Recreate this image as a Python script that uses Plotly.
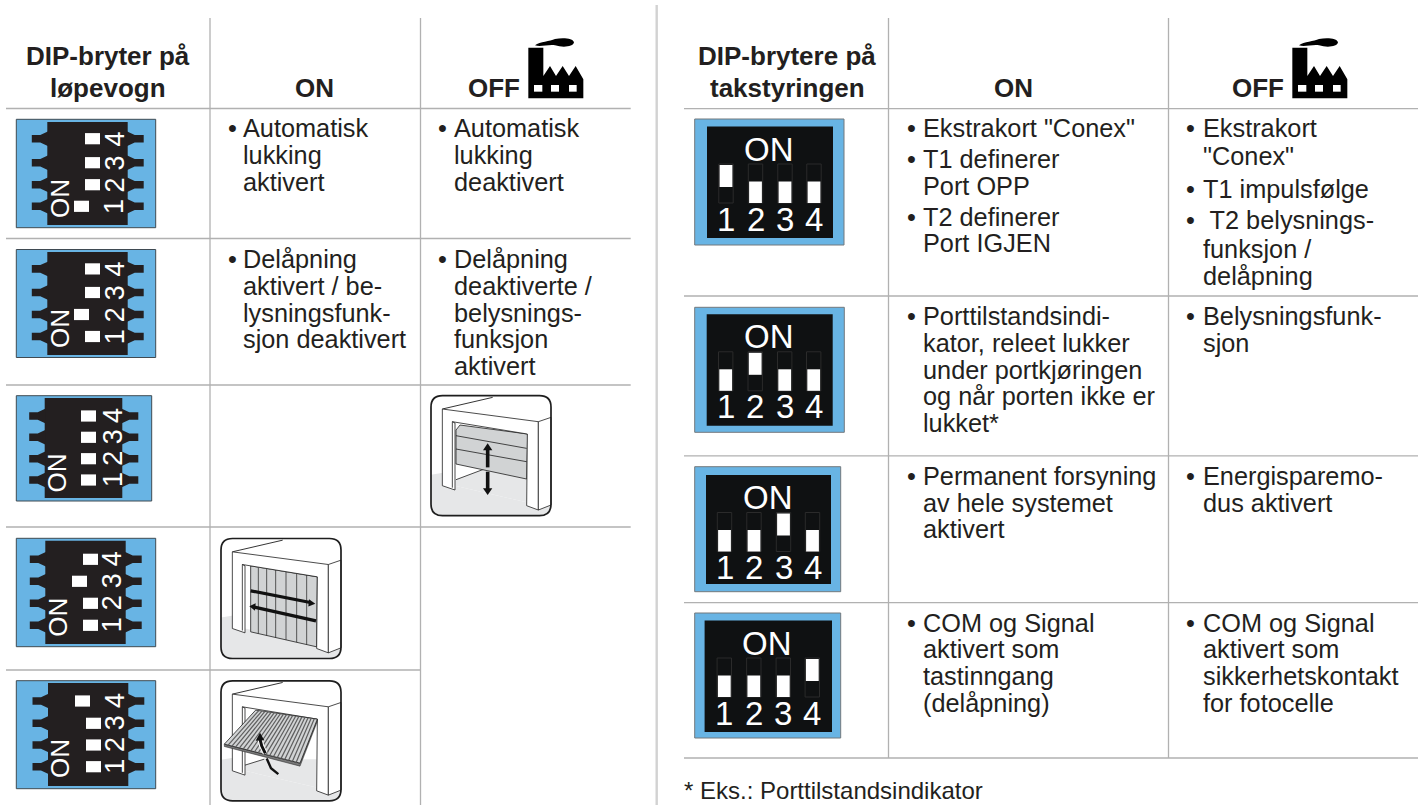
import plotly.graph_objects as go

# ---------- content ----------
LEFT_HEADER = ["DIP-bryter på", "løpevogn"]
RIGHT_HEADER = ["DIP-brytere på", "takstyringen"]
COL_ON = "ON"
COL_OFF = "OFF"
LEFT_SWITCH_ON = [1, 2, None, 3, 4]      # which switch is in the ON position, per row
RIGHT_SWITCH_ON = [1, 2, 3, 4]
LEFT_ON_TEXT = [
    [("•", "Automatisk"), ("", "lukking"), ("", "aktivert")],
    [("•", "Delåpning"), ("", "aktivert / be-"), ("", "lysningsfunk-"), ("", "sjon deaktivert")],
]
LEFT_OFF_TEXT = [
    [("•", "Automatisk"), ("", "lukking"), ("", "deaktivert")],
    [("•", "Delåpning"), ("", "deaktiverte /"), ("", "belysnings-"), ("", "funksjon"), ("", "aktivert")],
]
RIGHT_ON_TEXT = [
    [("•", "Ekstrakort \"Conex\""), ("•", "T1 definerer"), ("", "Port OPP"), ("•", "T2 definerer"), ("", "Port IGJEN")],
    [("•", "Porttilstandsindi-"), ("", "kator, releet lukker"), ("", "under portkjøringen"), ("", "og når porten ikke er"), ("", "lukket*")],
    [("•", "Permanent forsyning"), ("", "av hele systemet"), ("", "aktivert")],
    [("•", "COM og Signal"), ("", "aktivert som"), ("", "tastinngang"), ("", "(delåpning)")],
]
RIGHT_OFF_TEXT = [
    [("•", "Ekstrakort"), ("", "\"Conex\""), ("•", "T1 impulsfølge"), ("•", " T2 belysnings-"), ("", "funksjon /"), ("", "delåpning")],
    [("•", "Belysningsfunk-"), ("", "sjon")],
    [("•", "Energisparemo-"), ("", "dus aktivert")],
    [("•", "COM og Signal"), ("", "aktivert som"), ("", "sikkerhetskontakt"), ("", "for fotocelle")],
]
FOOTNOTE = "* Eks.: Porttilstandsindikator"
SWITCH_NUMBERS = ["1", "2", "3", "4"]

# ---------- styling and layout ----------
FONT = "Liberation Sans"
INK = "#231f20"
RULE = "#b1b1b1"
BLUE = "#68b4e4"
GREY_DOOR = "#d1d3d4"
FLOOR = "#e6e7e8"
BODY = 25.3

shapes, notes = [], []


def text(x, base, s, size=BODY, bold=False, anchor="left", angle=0, color=INK, raw_y=False):
    y = base if raw_y else base - 0.3465 * size
    label = f"<b>{s}</b>" if bold else s
    notes.append(dict(x=x, y=y, xref="x", yref="y", text=label, showarrow=False, xanchor=anchor,
                      yanchor="middle", textangle=angle, align=anchor, borderpad=0, borderwidth=0,
                      font=dict(family=FONT, size=size, color=color)))


def line(x0, y0, x1, y1, color=RULE, w=1.3):
    shapes.append(dict(type="line", x0=x0, y0=y0, x1=x1, y1=y1, xref="x", yref="y",
                       line=dict(color=color, width=w)))


def rect(x0, y0, x1, y1, fill, edge=None, w=1):
    shapes.append(dict(type="rect", x0=x0, y0=y0, x1=x1, y1=y1, xref="x", yref="y", fillcolor=fill,
                       line=dict(color=edge or fill, width=w if edge else 0)))


def poly(points, fill, edge=None, w=1, close=True):
    d = "M" + " L".join(f"{px:.2f},{py:.2f}" for px, py in points) + (" Z" if close else "")
    shapes.append(dict(type="path", path=d, xref="x", yref="y", fillcolor=fill if close else "rgba(0,0,0,0)",
                       line=dict(color=edge or fill, width=w if edge else 0)))


def rawpath(d, fill, edge=None, w=1):
    shapes.append(dict(type="path", path=d, xref="x", yref="y", fillcolor=fill,
                       line=dict(color=edge or fill, width=w if edge else 0)))


def block(x_bullet, x_text, baselines, lines):
    for b, (bullet, s) in zip(baselines, lines):
        if bullet:
            text(x_bullet, b, bullet, anchor="center")
        text(x_text, b, s)


# rules
for y in (108.5, 238.5, 385, 527):
    line(6, y, 630.7, y)
line(6, 670, 420.5, 670)
for x in (210, 420.5):
    line(x, 18, x, 805)
line(656.7, 5, 656.7, 805, color="#d2d2d2", w=2.4)
for y in (108.7, 296, 455.8, 602.7, 758):
    line(684, y, 1418, y)
for x in (888.5, 1168.5):
    line(x, 18, x, 758)

# headers
text(108, 65, LEFT_HEADER[0], 26, True, "center")
text(108, 97.5, LEFT_HEADER[1], 26, True, "center")
text(314, 97.5, COL_ON, 26, True, "center")
text(494, 97.5, COL_OFF, 26, True, "center")
text(787, 65, RIGHT_HEADER[0], 26, True, "center")
text(787, 97.5, RIGHT_HEADER[1], 26, True, "center")
text(1013, 97.5, COL_ON, 26, True, "center")
text(1258, 97.5, COL_OFF, 26, True, "center")


def factory(dx):
    X = lambda v: 510 + v / 3 + dx
    Y = lambda v: v / 3
    pts = [(55, 143), (100, 143), (100, 228), (120, 198), (138, 228), (158, 198), (177, 228), (197, 198),
           (220, 238), (220, 295), (55, 295)]
    poly([(X(a), Y(b)) for a, b in pts], "#000000")
    for a, b in ((72, 97), (123, 147), (177, 200)):
        rect(X(a), Y(255), X(b), Y(275), "#ffffff")
    d = (f"M{X(75)},{Y(136)} C{X(90)},{Y(125)} {X(120)},{Y(124)} {X(135)},{Y(117)} "
         f"C{X(160)},{Y(112)} {X(190)},{Y(115)} {X(192)},{Y(127)} "
         f"C{X(190)},{Y(140)} {X(160)},{Y(144)} {X(135)},{Y(136)} C{X(115)},{Y(133)} {X(90)},{Y(142)} {X(75)},{Y(136)} Z")
    rawpath(d, "#000000")


factory(0)
factory(764)

# left-hand switches (module turned on its side)
LEFT_GEOM = [
    dict(blue=(16.3, 119.3, 155.7, 227.7), black=(47.3, 122, 127.7, 225), pins=(138.7, 162.7, 184.7, 206.3), off=85, dig=114.7, on=(60, 199)),
    dict(blue=(16.3, 249.5, 155.7, 357.5), black=(47.3, 252, 127.7, 355), pins=(268.9, 292.5, 314.5, 336.5), off=85, dig=114.7, on=(60, 329)),
    dict(blue=(16.3, 395.7, 151.7, 501), black=(44.7, 398, 122.3, 498), pins=(416, 437.3, 458.7, 480), off=81, dig=113, on=(56.7, 472.7)),
    dict(blue=(16.3, 538.3, 155.7, 646.7), black=(45.3, 540.7, 125.7, 644), pins=(559.3, 581.3, 603.3, 625.3), off=83, dig=112, on=(57.7, 617)),
    dict(blue=(16.3, 680.7, 155.7, 788.7), black=(48, 683, 128.3, 786), pins=(701, 723.3, 745, 766.7), off=86, dig=115, on=(60, 759)),
]
for g, active in zip(LEFT_GEOM, LEFT_SWITCH_ON):
    rect(*g["blue"], BLUE, edge="#3f4a52", w=1)
    bx0, by0, bx1, by1 = g["black"]
    rect(bx0, by0, bx1, by1, INK)
    pins = sorted(g["pins"], reverse=True)
    for i, c in enumerate(pins):
        poly([(bx0 + 1, c - 7.5), (bx0 - 7, c - 3.8), (bx0 - 15.5, c - 3.8), (bx0 - 15.5, c + 3.8), (bx0 - 7, c + 3.8), (bx0 + 1, c + 7.5)], INK)
        poly([(bx1 - 1, c - 7.5), (bx1 + 7, c - 3.8), (bx1 + 16, c - 3.8), (bx1 + 16, c + 3.8), (bx1 + 7, c + 3.8), (bx1 - 1, c + 7.5)], INK)
        x0 = g["off"] - 11 if active == i + 1 else g["off"]
        rect(x0, c - 5.6, x0 + 15, c + 5.6, "#ffffff")
        text(g["dig"], c, SWITCH_NUMBERS[i], 27, anchor="center", angle=-90, color="#ffffff", raw_y=True)
    text(g["on"][0], g["on"][1], "ON", 26, anchor="center", angle=-90, color="#ffffff", raw_y=True)

# right-hand switches
RIGHT_GEOM = [
    dict(blue=(694.7, 119, 844, 245), black=(707, 126.5, 833, 238)),
    dict(blue=(694.7, 307.3, 844.3, 432.3), black=(706.7, 314.3, 832.7, 425.7)),
    dict(blue=(694.7, 466.7, 840.7, 591.7), black=(706, 475, 831, 584)),
    dict(blue=(694.7, 613, 840.7, 738), black=(704.6, 620.5, 832, 732)),
]
for g, active in zip(RIGHT_GEOM, RIGHT_SWITCH_ON):
    rect(*g["blue"], BLUE, edge="#73797d", w=1)
    bx0, by0, bx1, by1 = g["black"]
    rect(bx0, by0, bx1, by1, "#0f1112")
    cx = (bx0 + bx1) / 2
    text(cx - 1, by0 + 34, "ON", 33, anchor="center", color="#ffffff")
    for i, off in enumerate((-44, -14.5, 15, 44)):
        c = cx + off
        rect(c - 7.2, by0 + 37.5, c + 7.2, by0 + 76.5, "#0f1112", edge="#2b2b2b", w=1)
        if active == i + 1:
            rect(c - 6.4, by0 + 38.5, c + 6.4, by0 + 60.5, "#ffffff")
        else:
            rect(c - 6.4, by0 + 55, c + 6.4, by0 + 76.5, "#ffffff")
        text(c, by0 + 104, SWITCH_NUMBERS[i], 33, anchor="center", color="#ffffff")


# garage pictograms, drawn in a 360-unit local grid
def garage(ox, oy, kind):
    L = lambda pts: [(ox + a / 3, oy + b / 3) for a, b in pts]
    P = lambda a, b: (ox + a / 3, oy + b / 3)
    x1, y1 = ox + 120, oy + 120
    r = 11.5
    k = "#1e1e1e"
    rounded = (f"M{ox + r},{oy} L{x1 - r},{oy} Q{x1},{oy} {x1},{oy + r} L{x1},{y1 - r} Q{x1},{y1} {x1 - r},{y1} "
               f"L{ox + r},{y1} Q{ox},{y1} {ox},{y1 - r} L{ox},{oy + r} Q{ox},{oy} {ox + r},{oy} Z")
    rawpath(rounded, "#ffffff")
    fy = oy + 237 / 3
    rawpath(f"M{ox},{fy} L{ox + 30},{fy - 5} L{x1},{fy - 25} L{x1},{y1 - r} Q{x1},{y1} {x1 - r},{y1} "
            f"L{ox + r},{y1} Q{ox},{y1} {ox},{y1 - r} Z", FLOOR)
    poly(L([(34, 40), (185, 5)]), "", edge=k, w=0.9, close=False)
    # opening, white back wall behind the door
    poly(L([(64, 78), (289, 115), (287, 320), (72, 270)]), "#ffffff")
    if kind == 1:
        poly(L([(72, 252), (160, 220), (287, 250), (287, 320), (72, 270)]), FLOOR)
        line(*P(75, 252), *P(160, 220), color=k, w=0.8)
        poly(L([(75, 103), (87, 88), (290, 115), (287, 250), (75, 205)]), GREY_DOOR, edge=k, w=0.8)
        line(*P(75, 120), *P(287, 158), color=k, w=0.8)
        line(*P(75, 160), *P(287, 198), color=k, w=0.8)
        line(*P(170, 160), *P(170, 215), color="#111111", w=3.6)
        poly(L([(170, 143), (156, 164), (184, 164)]), "#111111")
        line(*P(170, 228), *P(170, 283), color="#111111", w=3.6)
        poly(L([(170, 298), (156, 278), (184, 278)]), "#111111")
    elif kind == 2:
        poly(L([(89, 82), (289, 115), (287, 325), (89, 280)]), GREY_DOOR, edge=k, w=0.8)
        for sx, sy0, sy1 in ((112, 87, 285), (137, 91, 291), (164, 95, 297), (195, 100, 304), (227, 105, 311), (257, 110, 318)):
            line(*P(sx, sy0), *P(sx, sy1), color=k, w=0.7)
        line(*P(89, 157), *P(268, 192), color="#111111", w=3.2)
        poly(L([(283, 196), (264, 182), (262, 204)]), "#111111")
        line(*P(285, 247), *P(100, 206), color="#111111", w=3.2)
        poly(L([(85, 203), (104, 194), (102, 217)]), "#111111")
    else:
        poly(L([(72, 253), (130, 235), (287, 235), (287, 320), (72, 270)]), FLOOR)
        line(*P(72, 253), *P(130, 235), color=k, w=0.8)
    # frame
    poly(L([(34, 40), (322, 78), (322, 343), (287, 330), (289, 115), (64, 78), (72, 82), (72, 283), (34, 270)]), "#ffffff", edge=k, w=0.8)
    poly(L([(322, 78), (360, 65), (360, 328), (322, 343)]), "#ffffff", edge=k, w=0.8)
    line(*P(64, 78), *P(64, 276), color=k, w=0.8)
    if kind == 3:
        # tilting door hangs in front of the frame
        poly(L([(10, 190), (10, 197), (237, 256), (289, 122), (289, 115), (237, 247)]), "#777777", edge=k, w=0.5)
        poly(L([(104, 88), (289, 115), (237, 247), (10, 190)]), GREY_DOOR, edge=k, w=0.8)
        for n in range(1, 20):
            t = n / 20
            a = (104 + 185 * t, 88 + 27 * t)
            b = (10 + 227 * t, 190 + 57 * t)
            line(*P(*a), *P(*b), color="#5e5e5e", w=1.2)
        poly(L([(117, 175), (122, 195), (133, 218)]), "", edge="#ffffff", w=5, close=False)
        poly(L([(117, 175), (122, 195), (133, 218)]), "", edge="#111111", w=3, close=False)
        poly(L([(117, 156), (104, 180), (130, 178)]), "#111111")
        poly(L([(137, 233), (150, 262), (172, 280)]), "", edge="#111111", w=2.4, close=False)
    rawpath(rounded, "rgba(0,0,0,0)", edge="#1e1e1e", w=1.7)


garage(431, 395.7, 1)
garage(221, 538.5, 2)
garage(221, 680.8, 3)

# table text
block(232, 243, (137, 163.5, 190.5), LEFT_ON_TEXT[0])
block(232, 243, (268, 295, 321.5, 348), LEFT_ON_TEXT[1])
block(442.7, 454, (137, 163.5, 190.5), LEFT_OFF_TEXT[0])
block(442.7, 454, (268, 295, 321.5, 348, 375), LEFT_OFF_TEXT[1])
RIGHT_ON_BASES = [(137, 168, 195, 226, 252), (325, 351.7, 379, 405, 431.7), (485, 511.7, 537.7), (631.7, 658, 685, 711.7)]
RIGHT_OFF_BASES = [(137, 165, 198, 229, 258, 285), (325, 352), (485, 511.7), (631.7, 658, 685, 711.7)]
for bases, lines in zip(RIGHT_ON_BASES, RIGHT_ON_TEXT):
    block(911, 922.5, bases, lines)
for bases, lines in zip(RIGHT_OFF_BASES, RIGHT_OFF_TEXT):
    block(1190.5, 1202.5, bases, lines)
text(684, 799, FOOTNOTE, 24)

fig = go.Figure()
fig.update_layout(
    width=1418, height=805, margin=dict(l=0, r=0, t=0, b=0), autosize=False,
    paper_bgcolor="#ffffff", plot_bgcolor="#ffffff", showlegend=False,
    xaxis=dict(range=[0, 1418], visible=False, fixedrange=True),
    yaxis=dict(range=[805, 0], visible=False, fixedrange=True),
    shapes=shapes, annotations=notes,
)
fig.write_html("out.html", config=dict(displayModeBar=False),
               post_script="document.body.style.margin='0';document.documentElement.style.overflow='hidden';")
